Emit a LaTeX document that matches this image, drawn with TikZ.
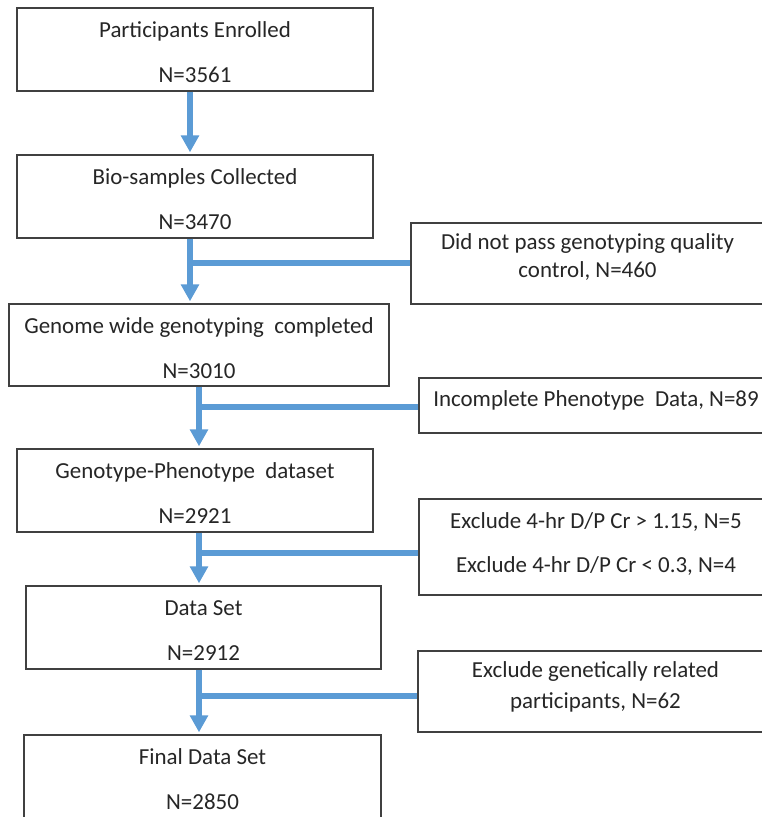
\documentclass[tikz,border=0pt]{standalone}
\usepackage{fontspec}
\setmainfont{Carlito}
\usetikzlibrary{arrows.meta}
\definecolor{flowblue}{HTML}{5B9BD5}
\definecolor{boxgray}{HTML}{404040}
\definecolor{txt}{HTML}{262626}
\tikzset{
  mainbox/.style={draw=boxgray, line width=1.1pt, fill=white, inner sep=0pt,
    align=center, text=txt, minimum width=267pt, minimum height=62.25pt,
    font=\fontsize{17.2}{33.4}\selectfont},
  sidebox/.style={draw=boxgray, line width=1.1pt, fill=white, inner sep=0pt,
    align=center, text=txt, minimum width=265.5pt},
  flowarrow/.style={draw=flowblue, line width=4.5pt,
    -{Triangle[length=12.75pt,width=13.2pt]}, shorten >=1.5pt},
  branchline/.style={draw=flowblue, line width=4.5pt}
}
\newcommand{\topstrut}[1]{\rule{0pt}{#1}}
\newcommand{\botstrut}[1]{\rule[-#1]{0pt}{#1}}
\begin{document}
\begin{tikzpicture}[x=0.75pt, y=-0.75pt]
\fill[white] (0,0) rectangle (762,817);
\useasboundingbox (0,0) rectangle (762,817);

% main boxes
\node[mainbox] (b1) at (195,49.5)
  {\topstrut{20.6pt}Participants Enrolled\\N=3561\botstrut{4.5pt}};
\node[mainbox] (b2) at (195,196.5)
  {\topstrut{20.6pt}Bio-samples Collected\\N=3470\botstrut{4.5pt}};
\node[mainbox, minimum width=285pt, minimum height=61.5pt] (b3) at (199,345)
  {\topstrut{20.6pt}Genome wide genotyping~ completed\\N=3010\botstrut{4.5pt}};
\node[mainbox] (b4) at (195,490.5)
  {\topstrut{20.6pt}Genotype-Phenotype~ dataset\\N=2921\botstrut{4.5pt}};
\node[mainbox, minimum width=266.25pt] (b5) at (203.5,627.5)
  {\topstrut{20.6pt}Data Set\\N=2912\botstrut{4.5pt}};
\node[mainbox, minimum width=267.75pt] (b6) at (202.5,776.5)
  {\topstrut{20.6pt}Final Data Set\\N=2850\botstrut{4.5pt}};

% side boxes
\node[sidebox, minimum width=264.75pt, minimum height=60.75pt,
  font=\fontsize{17.2}{21.4}\selectfont] (s1) at (587.5,263.5)
  {\topstrut{12pt}Did not pass genotyping quality\\control, N=460\botstrut{12pt}};
\node[sidebox, minimum height=41.25pt,
  font=\fontsize{17.2}{21.4}\selectfont] (s2) at (596,405.5)
  {\topstrut{12pt}Incomplete Phenotype~ Data, N=89\botstrut{10.2pt}};
\node[sidebox, minimum height=72pt,
  font=\fontsize{17.2}{33}\selectfont] (s3) at (596,547)
  {\topstrut{12pt}Exclude 4-hr D/P Cr > 1.15, N=5\\Exclude 4-hr D/P Cr < 0.3, N=4\botstrut{7pt}};
\node[sidebox, minimum width=266.25pt, minimum height=60.75pt,
  font=\fontsize{17.2}{23.25}\selectfont] (s4) at (595.5,691.5)
  {\topstrut{12pt}Exclude genetically related\\participants, N=62\botstrut{10pt}};

% junctions
\coordinate (j1) at (190,262.7);
\coordinate (j2) at (199,407);
\coordinate (j3) at (199,553);
\coordinate (j4) at (199,696);

% branches to exclusion boxes
\draw[branchline] (j1) -- (j1 -| s1.west);
\draw[branchline] (j2) -- (j2 -| s2.west);
\draw[branchline] (j3) -- (j3 -| s3.west);
\draw[branchline] (j4) -- (j4 -| s4.west);

% main flow arrows
\draw[flowarrow] ([xshift=-3.75pt]b1.south) -- ([xshift=-3.75pt]b1.south |- b2.north);
\draw[flowarrow] ([xshift=-3.75pt]b2.south) -- ([xshift=-3.75pt]b2.south |- b3.north);
\draw[flowarrow] (b3.south) -- (b3.south |- b4.north);
\draw[flowarrow] ([xshift=3pt]b4.south) -- ([xshift=3pt]b4.south |- b5.north);
\draw[flowarrow] ([xshift=-3.375pt]b5.south) -- ([xshift=-3.375pt]b5.south |- b6.north);
\end{tikzpicture}
\end{document}
